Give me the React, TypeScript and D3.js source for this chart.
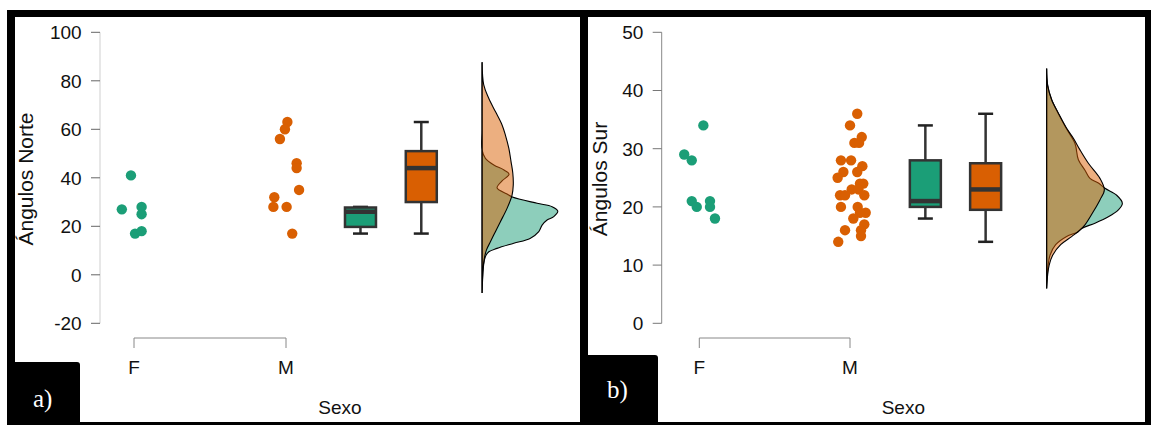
import React from 'react';
import * as d3 from 'd3';

// ---------- shared ----------
const groups = ['F', 'M'];
const groupColors = ['#1b9e77', '#d95f02'];
const xTitle = 'Sexo';

// ---------- panel a: Ángulos Norte ----------
const aTitle = 'Ángulos Norte';
const aTicks = [-20, 0, 20, 40, 60, 80, 100];
const aFValues = [41, 27, 28, 25, 17, 18];
const aFJitter = [-0.02, -0.08, 0.05, 0.05, 0.007, 0.05];
const aMValues = [63, 60, 56, 46, 44, 35, 32, 28, 28, 17];
const aMJitter = [0.009, -0.007, -0.04, 0.07, 0.07, 0.086, -0.077, -0.083, 0.004, 0.041];
// box stats: [lower whisker, q1, median, q3, upper whisker]
const aBoxF = [17, 19.75, 26, 27.75, 28];
const aBoxM = [17, 30, 44, 51, 63];
// densities: [value, relative density]
const aDensF: [number, number][] = [
  [87.7, 0], [60, 0], [51.5, 0], [48, 0.044], [45.3, 0.155], [43.2, 0.29], [41.5, 0.357],
  [38.7, 0.264], [35.8, 0.198], [33.3, 0.33], [32.1, 0.4], [29.5, 0.727], [28.1, 0.925],
  [26.3, 1.0], [24, 0.947], [22.6, 0.859], [20.5, 0.793], [17.8, 0.749], [15, 0.634],
  [13, 0.419], [10.9, 0.198], [9.5, 0.089], [7.5, 0.044], [4, 0.02], [0, 0.01], [-7.5, 0],
];
const aDensM: [number, number][] = [
  [87.7, 0], [78.3, 0.022], [72.8, 0.088], [67.3, 0.176], [61.8, 0.264], [57.6, 0.308],
  [52.2, 0.353], [46.6, 0.383], [41.9, 0.406], [37, 0.412], [32.9, 0.396], [27.4, 0.33],
  [21.9, 0.242], [17.8, 0.176], [13.6, 0.11], [10.2, 0.057], [6.8, 0.03], [2.8, 0.013], [-7.5, 0],
];

// ---------- panel b: Ángulos Sur ----------
const bTitle = 'Ángulos Sur';
const bTicks = [0, 10, 20, 30, 40, 50];
const bFValues = [29, 28, 34, 21, 20, 21, 20, 18];
const bFJitter = [-0.1, -0.05, 0.027, -0.05, -0.017, 0.071, 0.071, 0.104];
const bMValues = [36, 34, 32, 31, 31, 28, 28, 27, 26, 26, 25, 24, 24, 23, 23, 22, 22, 22, 20, 20, 19, 19, 18, 17, 16, 16, 15, 14];
const bMJitter = [0.048, 0, 0.078, 0.029, 0.06, -0.06, 0.007, 0.082, -0.044, 0.048, -0.082, 0.088, 0.066, 0.011, 0.056, -0.066, -0.033, 0.095, -0.06, 0.051, 0.104, 0.066, 0.022, 0.095, -0.033, 0.073, 0.073, -0.078];
const bBoxF = [18, 20, 21, 28, 34];
const bBoxM = [14, 19.5, 23, 27.5, 36];
const bDensF: [number, number][] = [
  [43.8, 0], [40.9, 0.013], [38.4, 0.066], [36.1, 0.152], [33.5, 0.258], [30.9, 0.374],
  [28.1, 0.419], [26.3, 0.506], [24.9, 0.572], [24.1, 0.683], [23.2, 0.77], [22.0, 0.925],
  [20.6, 1.0], [19.5, 0.947], [18.3, 0.815], [17.2, 0.638], [16.3, 0.462], [15.7, 0.41],
  [14.9, 0.264], [13.5, 0.119], [11.7, 0.044], [10, 0.02], [8.3, 0.009], [6, 0],
];
const bDensM: [number, number][] = [
  [43.8, 0], [40.9, 0.013], [38.4, 0.066], [36.1, 0.155], [33.5, 0.264], [31.8, 0.353],
  [29.8, 0.44], [27.5, 0.551], [24.9, 0.704], [22.9, 0.762], [21.2, 0.704], [19.2, 0.617],
  [16.9, 0.506], [16.0, 0.44], [14.9, 0.33], [13.5, 0.185], [11.7, 0.079], [10, 0.033],
  [8.3, 0.013], [6, 0],
];

const FONT = "'Liberation Sans', Arial, sans-serif";

type PanelProps = {
  title: string;
  ticks: number[];
  fVals: number[]; fJit: number[];
  mVals: number[]; mJit: number[];
  boxF: number[]; boxM: number[];
  densF: [number, number][]; densM: [number, number][];
  axisX: number; xF: number; xM: number; right: number;
  boxPos: number[]; densPos: number;
  titleX: number;
  axisColor: string; tickColor: string;
};

function Box({ stats, cx, y, color }: { stats: number[]; cx: number; y: d3.ScaleLinear<number, number>; color: string }) {
  const [lo, q1, med, q3, hi] = stats;
  const bw = 31;
  const cap = 7.5;
  return (
    <g>
      <line x1={cx} x2={cx} y1={y(q3)} y2={y(hi)} stroke="#333" strokeWidth={2.5} />
      <line x1={cx} x2={cx} y1={y(q1)} y2={y(lo)} stroke="#333" strokeWidth={2.5} />
      <line x1={cx - cap} x2={cx + cap} y1={y(hi)} y2={y(hi)} stroke="#222" strokeWidth={2.5} />
      <line x1={cx - cap} x2={cx + cap} y1={y(lo)} y2={y(lo)} stroke="#222" strokeWidth={2.5} />
      <rect x={cx - bw / 2} y={y(q3)} width={bw} height={y(q1) - y(q3)} fill={color} stroke="#333" strokeWidth={2.5} />
      <line x1={cx - bw / 2} x2={cx + bw / 2} y1={y(med)} y2={y(med)} stroke="#333" strokeWidth={4.5} />
    </g>
  );
}

function Panel(p: PanelProps & { yDomain: [number, number] }) {
  const y = d3.scaleLinear().domain(p.yDomain).range([323.3, 32.3]);
  const x = d3.scaleLinear().domain([0, 1]).range([p.xF, p.xM]);
  const w = d3.scaleLinear().domain([0, 1]).range([0, 75.7]);
  const base = x(p.densPos);
  const area = d3.area<[number, number]>()
    .y((d) => y(d[0]))
    .x0(base)
    .x1((d) => base + w(d[1]))
    .curve(d3.curveCatmullRom.alpha(0.5));
  const bracketY = 338;
  return (
    <g fontFamily={FONT}>
      {/* y axis */}
      <line x1={p.axisX} x2={p.axisX} y1={y(p.yDomain[1])} y2={y(p.yDomain[0])} stroke={p.axisColor} strokeWidth={1} />
      {p.ticks.map((t) => (
        <g key={t}>
          <line x1={p.axisX - 9} x2={p.axisX} y1={y(t)} y2={y(t)} stroke={p.tickColor} strokeWidth={1} />
          <text x={p.axisX - 18.3} y={y(t)} dy="0.36em" textAnchor="end" fontSize={19} fill="#111">{t}</text>
        </g>
      ))}
      <text transform={`translate(${p.titleX},179) rotate(-90)`} textAnchor="middle" fontSize={21} fill="#111">{p.title}</text>
      {/* x bracket */}
      <path d={`M${x(0)},${bracketY + 10}V${bracketY}H${x(1)}V${bracketY + 10}`} fill="none" stroke="#888" strokeWidth={1} />
      {groups.map((g, i) => (
        <text key={g} x={x(i)} y={373.5} textAnchor="middle" fontSize={19} fill="#111">{g}</text>
      ))}
      <text x={(p.axisX + p.right) / 2} y={414} textAnchor="middle" fontSize={19} fill="#111">{xTitle}</text>
      {/* points */}
      {p.fVals.map((v, i) => (
        <circle key={'f' + i} cx={x(0 + p.fJit[i])} cy={y(v)} r={5.2} fill={groupColors[0]} />
      ))}
      {p.mVals.map((v, i) => (
        <circle key={'m' + i} cx={x(1 + p.mJit[i])} cy={y(v)} r={5.2} fill={groupColors[1]} />
      ))}
      {/* boxes */}
      <Box stats={p.boxF} cx={x(p.boxPos[0])} y={y} color={groupColors[0]} />
      <Box stats={p.boxM} cx={x(p.boxPos[1])} y={y} color={groupColors[1]} />
      {/* densities */}
      <path d={area(p.densF) || ''} fill={groupColors[0]} fillOpacity={0.5} stroke="#000" strokeWidth={1.1} />
      <path d={area(p.densM) || ''} fill={groupColors[1]} fillOpacity={0.5} stroke="#000" strokeWidth={1.1} />
    </g>
  );
}

export default function App() {
  return (
    <svg width={1151} height={428} style={{ position: 'absolute', left: 0, top: 0 }}>
      <rect x={0} y={0} width={1151} height={428} fill="#fff" />
      {/* frame */}
      <rect x={7} y={10} width={1144} height={415} fill="#000" />
      <rect x={15} y={17} width={565} height={405} fill="#fff" />
      <rect x={588} y={17} width={557} height={405} fill="#fff" />
      <Panel
        title={aTitle} ticks={aTicks} yDomain={[-20, 100]}
        fVals={aFValues} fJit={aFJitter} mVals={aMValues} mJit={aMJitter}
        boxF={aBoxF} boxM={aBoxM} densF={aDensF} densM={aDensM}
        axisX={100} xF={134} xM={286} right={580}
        boxPos={[1.49, 1.89]} densPos={2.29}
        titleX={33} axisColor="#cfcfcf" tickColor="#666"
      />
      <Panel
        title={bTitle} ticks={bTicks} yDomain={[0, 50]}
        fVals={bFValues} fJit={bFJitter} mVals={bMValues} mJit={bMJitter}
        boxF={bBoxF} boxM={bBoxM} densF={bDensF} densM={bDensM}
        axisX={661.7} xF={699.3} xM={850} right={1145}
        boxPos={[1.5, 1.9]} densPos={2.305}
        titleX={607} axisColor="#888" tickColor="#777"
      />
      {/* panel labels */}
      <path d="M15,362 H77 Q80,362 80,365 V422 H15 Z" fill="#000" />
      <path d="M588,355 H655 Q658,355 658,358 V422 H588 Z" fill="#000" />
      <text x={33} y={407} fontFamily="'Liberation Serif', 'Times New Roman', serif" fontSize={25} fill="#fff">a)</text>
      <text x={607} y={398} fontFamily="'Liberation Serif', 'Times New Roman', serif" fontSize={25} fill="#fff">b)</text>
    </svg>
  );
}
